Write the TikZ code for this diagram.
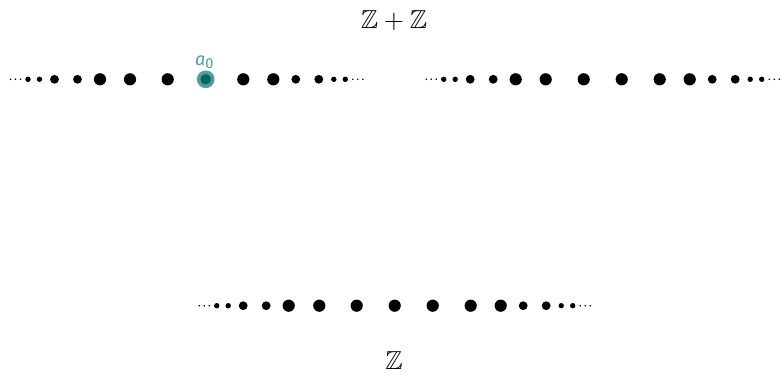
\documentclass[tikz,border=0pt]{standalone}
\usepackage{amssymb}
\usepackage{fontspec}
\usepackage{xcolor}
\usepackage{tikz}
\usetikzlibrary{positioning}
\newfontfamily\labfont{Fira Sans}
\definecolor{ringteal}{HTML}{4F9C9C}
\definecolor{coreteal}{HTML}{0B6262}
\tikzset{
  zdot/.style={circle,fill=black,inner sep=0pt,outer sep=0pt,minimum size=#1},
  bigdot/.style={zdot=12.2pt},
  basept/.style={circle,inner sep=0pt,fill=coreteal,draw=ringteal,line width=3.6pt,minimum size=14pt},
  grouplab/.style={anchor=base,scale=2.6,inner sep=0pt}
}
\newcommand{\zends}[4]{%
  \foreach \d/\s [count=\i] in {22.5/8.8,45.5/8.8,60.5/5.4,72/5.4,79.5/1.7,84.5/1.7,89.5/1.7}{
    \node[zdot=\s pt] (#1l\i) at (#2-\d,#4) {};
    \node[zdot=\s pt] (#1r\i) at (#3+\d,#4) {};
  }%
}

\begin{document}
\begin{tikzpicture}[x=1pt,y=-1pt]
\useasboundingbox (0,0) rectangle (781,374);
\node[grouplab] (sum) at (394,28.3) {$\mathbb{Z}+\mathbb{Z}$};
\node[grouplab] (base) at (394,369) {$\mathbb{Z}$};

\foreach \x [count=\i] in {100,130,167.7,243.3,273.3}
  \node[bigdot] (zl\i) at (\x,79.3) {};
\zends{zl}{100}{273.3}{79.3}
\node[basept] (azero) at (205.7,79.3) {};
\node[above=2pt of azero,xshift=-1.5pt,inner sep=0pt,text=ringteal] (alab)
  {\labfont\fontsize{18}{20}\selectfont\itshape a\raisebox{-2.8pt}{\upshape\fontsize{14.5}{16}\selectfont 0}};

\foreach \x [count=\i] in {515.7,545.7,583.7,621.7,659.7,689.7}
  \node[bigdot] (zr\i) at (\x,79.3) {};
\zends{zr}{515.7}{689.7}{79.3}

\foreach \x [count=\i] in {288.7,319.3,356.7,394.7,432.7,470.7,500.7}
  \node[bigdot] (zb\i) at (\x,305.7) {};
\zends{zb}{288.7}{500.7}{305.7}
\end{tikzpicture}
\end{document}
